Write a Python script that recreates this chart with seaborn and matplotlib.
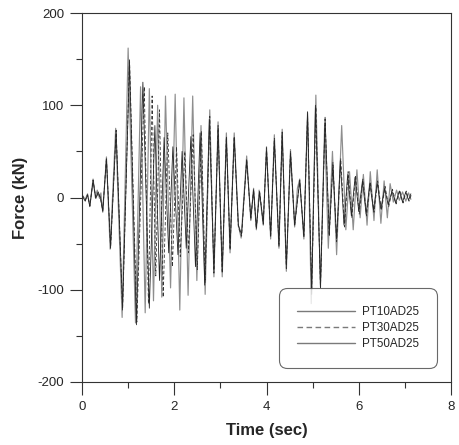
import matplotlib
matplotlib.use("Agg")
import matplotlib.pyplot as plt
from matplotlib.ticker import MultipleLocator
import seaborn as sns
import pandas as pd

series_names = ["PT10AD25", "PT30AD25", "PT50AD25"]

# PT10AD25 (dark solid) peak/trough readings
pt10_t = [0.00, 0.07, 0.12, 0.17, 0.24, 0.30, 0.35, 0.40, 0.45, 0.53, 0.62, 0.74, 0.88, 1.03, 1.18,
          1.32, 1.46, 1.58, 1.68, 1.78, 1.88, 1.97, 2.08, 2.17, 2.26, 2.36, 2.46, 2.56, 2.66, 2.76,
          2.86, 2.95, 3.04, 3.13, 3.21, 3.30, 3.39, 3.46, 3.57, 3.66, 3.72, 3.78, 3.85, 3.93, 4.00,
          4.09, 4.17, 4.27, 4.34, 4.43, 4.52, 4.61, 4.72, 4.81, 4.89, 4.98, 5.06, 5.17, 5.27, 5.36,
          5.44, 5.52, 5.60, 5.68, 5.76, 5.84, 5.92, 6.00, 6.08, 6.16, 6.24, 6.32, 6.40, 6.48, 6.56,
          6.64, 6.72, 6.80, 6.88, 6.95, 7.02, 7.08, 7.13]
pt10_v = [2, -4, 3, -10, 18, -1, 6, 0, -15, 42, -54, 72, -120, 147, -138,
          125, -120, 78, -90, 65, -60, 55, -62, 50, -55, 66, -75, 70, -95, 85,
          -80, 75, -80, 65, -55, 65, -30, -40, 40, -22, 8, -33, 6, -28, 52,
          -42, 62, -52, 70, -75, 48, -30, 18, -42, 93, -105, 100, -97, 87, -40,
          35, -45, 40, -30, 25, -20, 22, -15, 18, -18, 15, -14, 16, -12, 10,
          -8, 7, -6, 7, -5, 6, -3, 4]

# PT30AD25 (dark dashed) peak/trough readings
pt30_t = [0.00, 0.07, 0.12, 0.17, 0.24, 0.30, 0.35, 0.40, 0.45, 0.53, 0.62, 0.74, 0.88, 1.03, 1.19,
          1.35, 1.44, 1.52, 1.60, 1.68, 1.76, 1.86, 1.96, 2.05, 2.13, 2.23, 2.31, 2.41, 2.50, 2.59,
          2.67, 2.77, 2.86, 2.95, 3.04, 3.13, 3.21, 3.30, 3.39, 3.46, 3.57, 3.66, 3.72, 3.78, 3.85,
          3.93, 4.00, 4.09, 4.17, 4.27, 4.34, 4.43, 4.52, 4.61, 4.72, 4.81, 4.89, 4.98, 5.07, 5.17,
          5.27, 5.36, 5.44, 5.52, 5.61, 5.69, 5.77, 5.85, 5.93, 6.01, 6.09, 6.17, 6.25, 6.33, 6.41,
          6.49, 6.57, 6.65, 6.73, 6.81, 6.89, 6.96, 7.03, 7.09, 7.14]
pt30_v = [3, -3, 3, -9, 19, -1, 5, -1, -14, 43, -55, 73, -122, 150, -135,
          120, -115, 110, -85, 95, -108, 70, -75, 55, -64, 50, -60, 68, -78, 72,
          -92, 88, -82, 78, -82, 66, -57, 66, -32, -42, 42, -24, 9, -34, 7,
          -29, 54, -43, 64, -53, 71, -77, 50, -31, 19, -43, 90, -100, 98, -98, 85,
          -42, 38, -48, 42, -32, 28, -22, 24, -18, 20, -20, 17, -16, 18,
          -14, 12, -10, 9, -7, 8, -6, 7, -4, 3]

# PT50AD25 (light grey) peak/trough readings
pt50_t = [0.00, 0.07, 0.12, 0.17, 0.24, 0.29, 0.33, 0.38, 0.41, 0.45, 0.53, 0.61, 0.73, 0.87, 1.00,
          1.16, 1.27, 1.37, 1.46, 1.55, 1.64, 1.73, 1.81, 1.92, 2.02, 2.12, 2.21, 2.30, 2.40, 2.49,
          2.58, 2.67, 2.77, 2.86, 2.95, 3.04, 3.13, 3.21, 3.30, 3.39, 3.45, 3.57, 3.66, 3.72, 3.78,
          3.84, 3.93, 4.00, 4.09, 4.17, 4.27, 4.34, 4.43, 4.52, 4.61, 4.67, 4.72, 4.81, 4.89, 4.97,
          5.07, 5.17, 5.26, 5.34, 5.43, 5.52, 5.63, 5.72, 5.80, 5.88, 5.96, 6.03, 6.10, 6.18, 6.25,
          6.33, 6.40, 6.48, 6.55, 6.62, 6.68, 6.75, 6.82, 6.88, 6.95, 7.02, 7.08, 7.13]
pt50_v = [3, -2, 4, -9, 20, 0, 8, -1, 5, -16, 44, -56, 75, -130, 162,
          -136, 120, -125, 118, -112, 100, -108, 110, -98, 112, -122, 108, -106, 110, -90,
          78, -105, 95, -86, 82, -86, 70, -60, 70, -30, -44, 45, -25, 10, -35,
          8, -30, 55, -45, 68, -55, 74, -80, 52, -32, 10, 20, -45, 92, -115,
          111, -97, 78, -55, 50, -62, 78, -35, 28, -35, 30, -22, 25, -30, 28,
          -25, 30, -28, 18, -22, 15, -5, 8, -3, 6, -4, 5, -2]

frames = []
for name, tt, vv in zip(series_names, [pt10_t, pt30_t, pt50_t], [pt10_v, pt30_v, pt50_v]):
    frames.append(pd.DataFrame({"Time": tt, "Force": vv, "series": name}))
df = pd.concat(frames, ignore_index=True)

sns.set_style("white")
plt.rcParams["font.family"] = ["Liberation Sans", "DejaVu Sans"]
plt.rcParams["axes.unicode_minus"] = False

fig = plt.figure(figsize=(4.59, 4.45), dpi=100)
ax = fig.add_axes([82 / 459, 1 - 382 / 445, 369 / 459, 369 / 445])

palette = {"PT10AD25": "#262626", "PT30AD25": "#333333", "PT50AD25": "#8e8e8e"}
dashes = {"PT10AD25": "", "PT30AD25": (4, 2.5), "PT50AD25": ""}
sns.lineplot(data=df, x="Time", y="Force", hue="series", style="series",
             hue_order=series_names, style_order=series_names,
             palette=palette, dashes=dashes, estimator=None, sort=False,
             linewidth=0.6, legend=False, ax=ax)

lines = ax.lines[:3]
lines[0].set_zorder(3)
lines[1].set_zorder(2.8)
lines[2].set_zorder(2.5)
lines[2].set_linewidth(0.85)

ax.set_xlim(0, 8)
ax.set_ylim(-200, 200)
ax.xaxis.set_major_locator(MultipleLocator(2))
ax.xaxis.set_minor_locator(MultipleLocator(1))
ax.yaxis.set_major_locator(MultipleLocator(100))
ax.yaxis.set_minor_locator(MultipleLocator(50))
ax.tick_params(which="major", direction="out", length=9, width=0.8, color="#333333",
               labelsize=9.5, pad=4, bottom=True, left=True)
ax.tick_params(which="minor", direction="out", length=4.5, width=0.8, color="#333333",
               bottom=True, left=True)
ax.tick_params(axis="x", which="major", pad=5)

for s in ax.spines.values():
    s.set_color("#333333")
    s.set_linewidth(0.8)

ax.set_xlabel("Time (sec)", fontsize=12, fontweight="bold")
ax.set_ylabel("Force (kN)", fontsize=12, fontweight="bold")
ax.xaxis.set_label_coords(0.5, -0.112)
ax.yaxis.set_label_coords(-0.145, 0.5)

leg = ax.legend(lines, series_names, loc="lower right",
                bbox_to_anchor=(355 / 369, 14 / 369), bbox_transform=ax.transAxes,
                fontsize=8.4, frameon=True, fancybox=True, borderpad=1.55,
                handlelength=5.0, handletextpad=0.6, labelspacing=0.35, borderaxespad=0)
leg.get_frame().set_edgecolor("#444444")
leg.get_frame().set_linewidth(0.8)
leg.get_frame().set_boxstyle("round", pad=0, rounding_size=0.7)
for ln in leg.get_lines():
    ln.set_linewidth(1.0)
    ln.set_color("#7a7a7a")

fig.savefig("out.png", dpi=100)
